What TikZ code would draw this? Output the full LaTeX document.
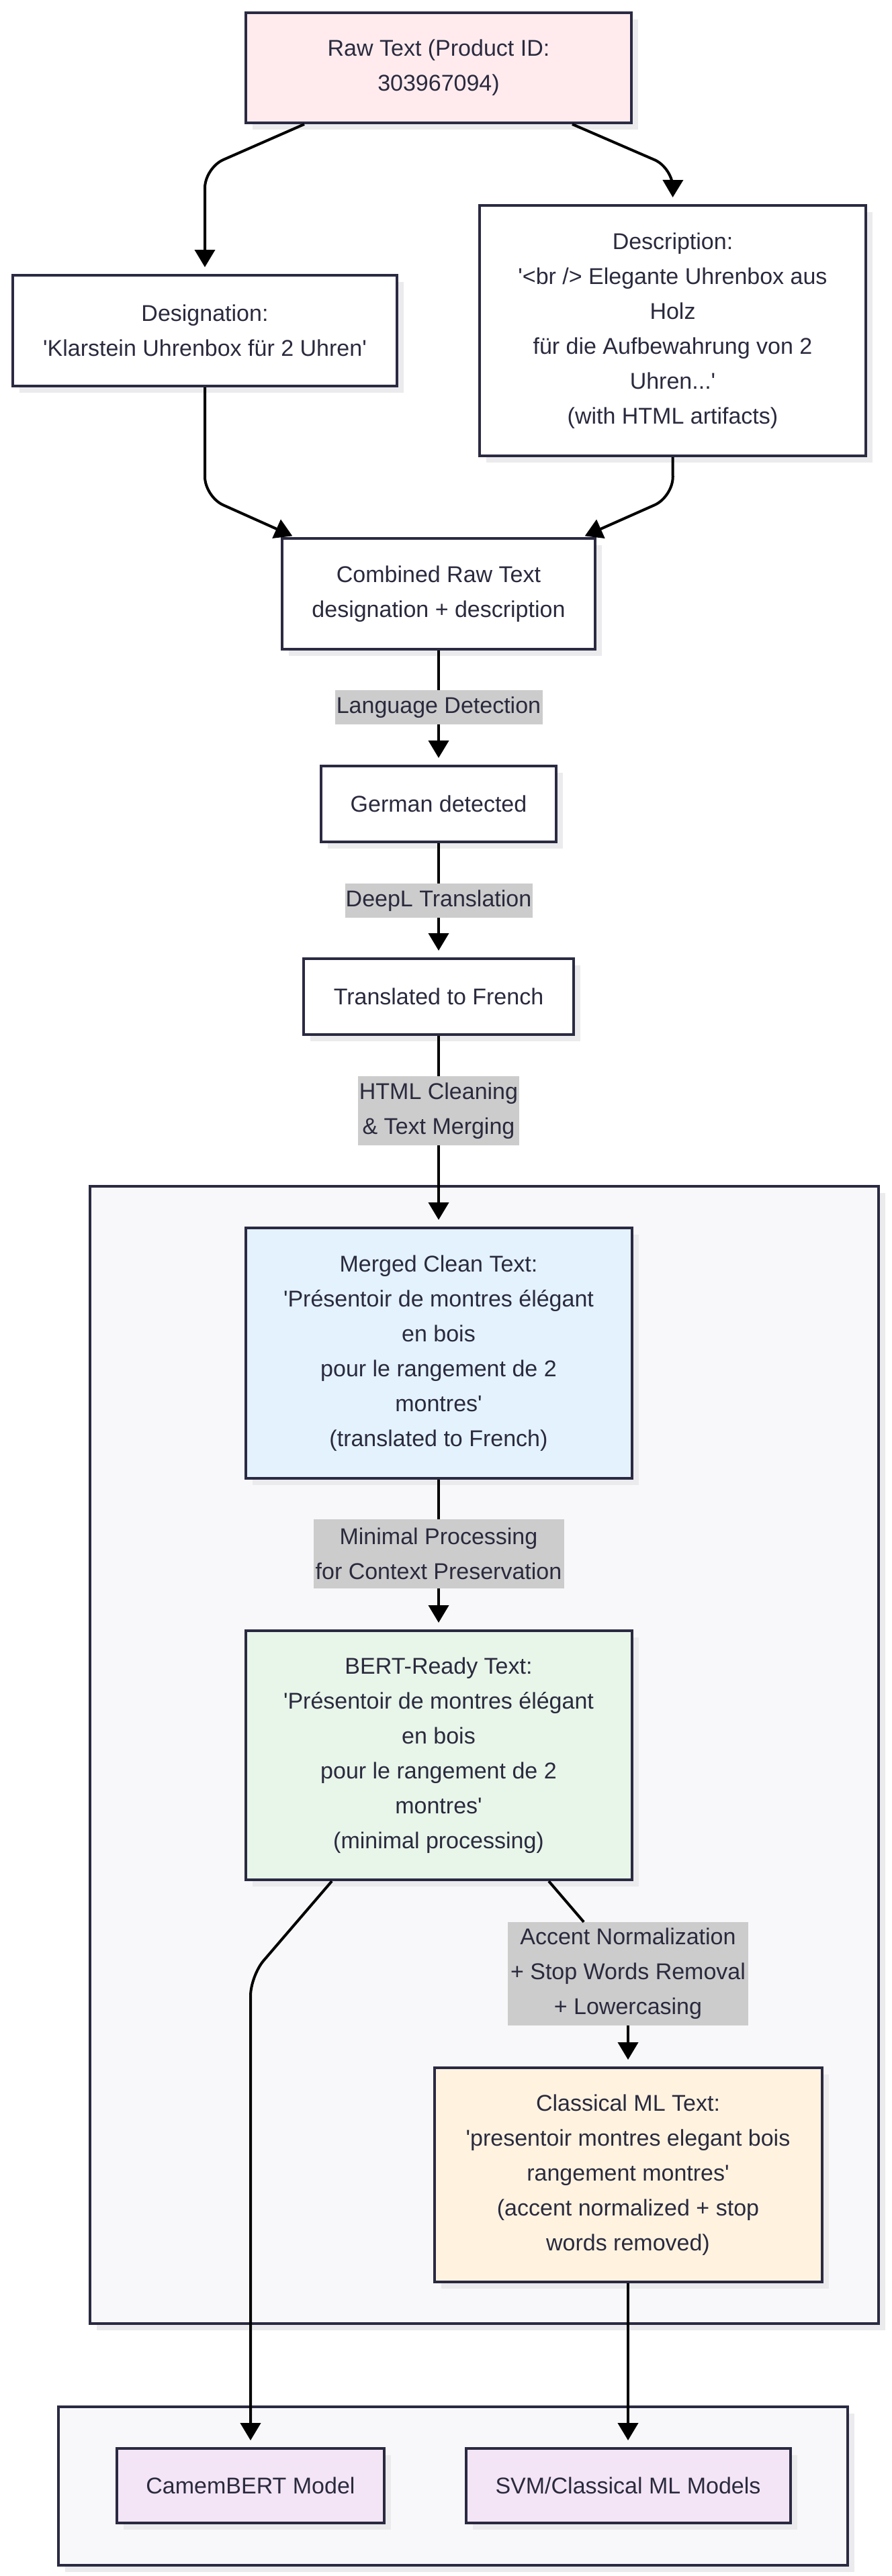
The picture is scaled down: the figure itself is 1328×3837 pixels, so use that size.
\documentclass[tikz,border=0pt]{standalone}
\usepackage{fontspec}
\setmainfont{Liberation Sans}[Ligatures=TeXOff]
\usetikzlibrary{arrows.meta,shadows}
\definecolor{bord}{HTML}{2A2A42}
\definecolor{txt}{HTML}{2A2A3E}
\definecolor{shad}{HTML}{EBEBEE}
\definecolor{lblgray}{HTML}{CCCCCC}
\definecolor{pinkf}{HTML}{FFEBEE}
\definecolor{bluef}{HTML}{E3F2FD}
\definecolor{greenf}{HTML}{E8F5E9}
\definecolor{orangef}{HTML}{FFF3E0}
\definecolor{purplef}{HTML}{F3E5F5}
\definecolor{contf}{HTML}{F8F8FB}
\begin{document}
\begin{tikzpicture}[x=1pt,y=-1pt,
  box/.style={draw=bord, line width=4pt, fill=white, text=txt, align=center, inner sep=0pt,
    font=\fontsize{34}{52}\selectfont,
    drop shadow={shadow xshift=10pt, shadow yshift=-10pt, fill=shad, opacity=1}},
  cont/.style={box, fill=contf},
  lbl/.style={fill=lblgray, text=txt, align=center, inner sep=0pt, font=\fontsize{34}{52}\selectfont},
  edge/.style={line width=4pt, black},
  arr/.style={edge, -{Triangle[width=30pt,length=26pt]}, shorten >=10pt},
  ]
\fill[white] (0,0) rectangle (1328,3837);
\useasboundingbox (0,0) rectangle (1328,3837);

% containers
\node[cont, minimum width=1174pt, minimum height=1694pt] (grp1) at (721,2614) {};
\node[cont, minimum width=1175pt, minimum height=236pt] (grp2) at (674.5,3703) {};

% nodes
\node[box, fill=pinkf, minimum width=574pt, minimum height=164pt] (raw) at (653,101) {Raw Text (Product ID:\\303967094)};
\node[box, minimum width=572pt, minimum height=165pt] (desig) at (305,492.5) {Designation:\\'Klarstein Uhrenbox für 2 Uhren'};
\node[box, minimum width=575pt, minimum height=373pt] (desc) at (1001.5,492.5) {Description:\\'<br /> Elegante Uhrenbox aus\\Holz\\für die Aufbewahrung von 2\\Uhren...'\\(with HTML artifacts)};
\node[box, minimum width=466pt, minimum height=165pt] (comb) at (653,884.5) {Combined Raw Text\\designation + description};
\node[lbl, minimum width=309pt, minimum height=51pt] (ld) at (653,1053.5) {Language Detection};
\node[box, minimum width=350pt, minimum height=113pt] (german) at (653,1197.5) {German detected};
\node[lbl, minimum width=279pt, minimum height=51pt] (deepl) at (653,1341.5) {DeepL Translation};
\node[box, minimum width=402pt, minimum height=113pt] (trans) at (653,1484.5) {Translated to French};
\node[lbl, minimum width=240pt, minimum height=103pt] (html) at (653,1654.5) {HTML Cleaning\\\& Text Merging};
\node[box, fill=bluef, minimum width=575pt, minimum height=373pt] (merged) at (653,2015.5) {Merged Clean Text:\\'Présentoir de montres élégant\\en bois\\pour le rangement de 2\\montres'\\(translated to French)};
\node[lbl, minimum width=373pt, minimum height=103pt] (minimal) at (653,2314.5) {Minimal Processing\\for Context Preservation};
\node[box, fill=greenf, minimum width=575pt, minimum height=371pt] (bert) at (653,2614.5) {BERT-Ready Text:\\'Présentoir de montres élégant\\en bois\\pour le rangement de 2\\montres'\\(minimal processing)};
\node[lbl, minimum width=358pt, minimum height=154pt] (accent) at (935,2940) {Accent Normalization\\+ Stop Words Removal\\+ Lowercasing};
\node[box, fill=orangef, minimum width=577pt, minimum height=319pt] (classical) at (935,3239.5) {Classical ML Text:\\'presentoir montres elegant bois\\rangement montres'\\(accent normalized + stop\\words removed)};
\node[box, fill=purplef, minimum width=398pt, minimum height=111pt] (camem) at (373,3702.5) {CamemBERT Model};
\node[box, fill=purplef, minimum width=483pt, minimum height=111pt] (svm) at (935,3702.5) {SVM/Classical ML Models};

% corner coordinates
\coordinate (c1) at (305,250);
\coordinate (c2) at (1002,250);
\coordinate (c3) at (305,740);
\coordinate (c4) at (1002,740);
\coordinate (c5) at (373,2943);

% edges
\draw[arr, rounded corners=30pt] ([xshift=-200pt]raw.south) -- (c1) -- (desig.north);
\draw[arr, rounded corners=30pt] ([xshift=199pt]raw.south) -- (c2) -- (desc.north);
\draw[arr, rounded corners=30pt, shorten >=4pt] (desig.south) -- (c3) -- ([xshift=-214pt]comb.north);
\draw[arr, rounded corners=30pt, shorten >=4pt] (desc.south) -- (c4) -- ([xshift=214pt]comb.north);
\draw[edge] (comb.south) -- (ld.north);
\draw[arr] (ld.south) -- (german.north);
\draw[edge] (german.south) -- (deepl.north);
\draw[arr] (deepl.south) -- (trans.north);
\draw[edge] (trans.south) -- (html.north);
\draw[arr] (html.south) -- (merged.north);
\draw[edge] (merged.south) -- (minimal.north);
\draw[arr] (minimal.south) -- (bert.north);
\draw[arr, rounded corners=30pt] ([xshift=-159pt]bert.south) -- (c5) -- (camem.north);
\draw[edge] ([xshift=164pt]bert.south) -- (accent);
\draw[arr] (accent.south) -- (classical.north);
\draw[arr] (classical.south) -- (svm.north);
\end{tikzpicture}
\end{document}
